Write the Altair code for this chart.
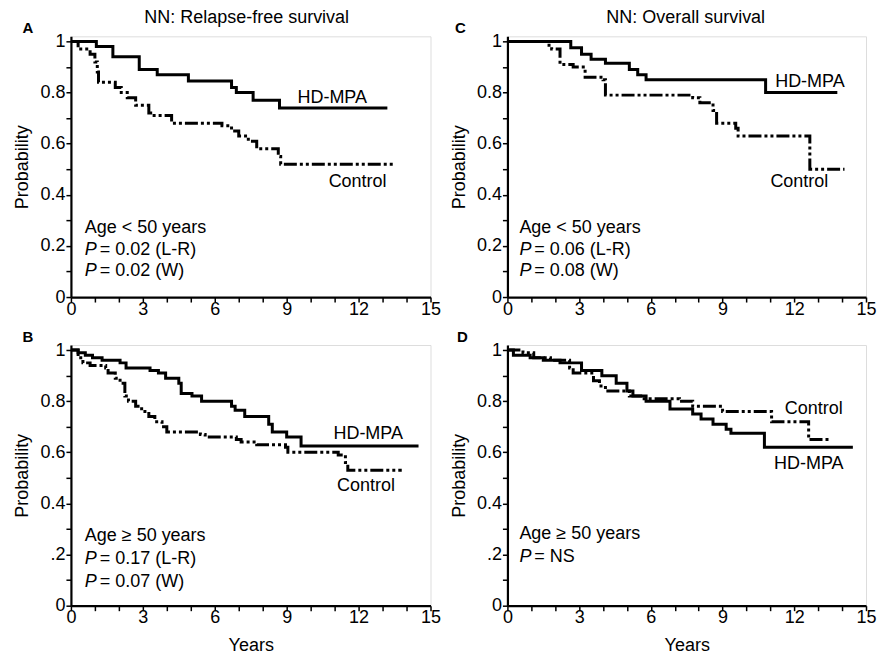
import altair as alt
import pandas as pd

FONT = "Liberation Sans"
FS = 18

# ---------------- data ----------------
A_HD_t = [0, 1.06, 1.75, 2.85, 3.6, 4.9, 6.7, 6.9, 7.6, 8.7, 13.2]
A_HD_s = [1.0, 0.98, 0.94, 0.89, 0.87, 0.845, 0.82, 0.80, 0.77, 0.74, 0.74]
A_C_t = [0, 0.3, 0.8, 1.0, 1.1, 1.15, 1.85, 2.1, 2.35, 2.7, 3.25, 3.4, 4.2, 6.3, 6.7, 7.0, 7.4, 7.75, 8.65, 8.75, 13.5]
A_C_s = [1.0, 0.97, 0.95, 0.92, 0.88, 0.84, 0.82, 0.80, 0.78, 0.75, 0.72, 0.71, 0.68, 0.67, 0.65, 0.63, 0.61, 0.58, 0.55, 0.52, 0.52]

C_HD_t = [0, 2.65, 3.1, 3.5, 4.1, 5.1, 5.45, 5.8, 10.8, 13.8]
C_HD_s = [1.0, 0.975, 0.95, 0.93, 0.915, 0.89, 0.87, 0.85, 0.80, 0.80]
C_C_t = [0, 1.65, 1.85, 2.2, 2.75, 3.25, 4.0, 4.1, 7.75, 8.05, 8.6, 8.75, 9.55, 9.65, 12.65, 14.1]
C_C_s = [1.0, 0.985, 0.97, 0.91, 0.90, 0.86, 0.85, 0.79, 0.78, 0.76, 0.73, 0.68, 0.66, 0.63, 0.50, 0.50]

B_HD_t = [0, 0.3, 0.6, 0.9, 1.3, 2.05, 2.3, 3.3, 3.65, 3.95, 4.5, 4.6, 5.05, 5.45, 6.7, 6.85, 7.25, 8.25, 8.4, 9.0, 9.6, 14.5]
B_HD_s = [1.0, 0.99, 0.98, 0.97, 0.96, 0.95, 0.93, 0.92, 0.91, 0.89, 0.87, 0.83, 0.82, 0.80, 0.78, 0.765, 0.74, 0.71, 0.68, 0.66, 0.625, 0.625]
B_C_t = [0, 0.3, 0.5, 0.8, 1.45, 1.55, 1.85, 2.05, 2.25, 2.4, 2.7, 2.95, 3.25, 3.5, 3.8, 4.0, 5.4, 5.6, 6.9, 7.1, 7.75, 8.95, 9.05, 11.15, 11.45, 11.55, 13.8]
B_C_s = [1.0, 0.97, 0.95, 0.94, 0.93, 0.91, 0.89, 0.87, 0.82, 0.80, 0.78, 0.76, 0.74, 0.72, 0.70, 0.68, 0.67, 0.66, 0.65, 0.64, 0.63, 0.62, 0.60, 0.59, 0.56, 0.53, 0.53]

D_HD_t = [0, 0.25, 0.95, 1.5, 2.2, 3.1, 3.95, 4.55, 5.0, 5.25, 5.8, 6.8, 7.75, 8.1, 8.6, 9.15, 9.35, 10.75, 14.45]
D_HD_s = [1.0, 0.98, 0.97, 0.96, 0.95, 0.92, 0.90, 0.87, 0.84, 0.82, 0.80, 0.77, 0.75, 0.73, 0.71, 0.69, 0.675, 0.62, 0.62]
D_C_t = [0, 0.65, 1.1, 1.8, 2.6, 2.75, 3.6, 3.85, 4.1, 5.1, 5.65, 7.2, 7.75, 9.0, 11.05, 12.6, 13.45]
D_C_s = [1.0, 0.99, 0.97, 0.96, 0.93, 0.91, 0.88, 0.86, 0.84, 0.82, 0.81, 0.80, 0.78, 0.76, 0.72, 0.65, 0.65]

# group labels: (x, y, text)
A_groups = [(9.45, 0.78, "HD-MPA"), (10.75, 0.45, "Control")]
C_groups = [(11.2, 0.84, "HD-MPA"), (11.0, 0.45, "Control")]
B_groups = [(10.95, 0.67, "HD-MPA"), (11.1, 0.467, "Control")]
D_groups = [(11.6, 0.77, "Control"), (11.15, 0.556, "HD-MPA")]

# annotation lines: header, then P-value rows
A_notes = ["Age < 50 years", "= 0.02 (L-R)", "= 0.02 (W)"]
C_notes = ["Age < 50 years", "= 0.06 (L-R)", "= 0.08 (W)"]
B_notes = ["Age ≥ 50 years", "= 0.17 (L-R)", "= 0.07 (W)"]
D_notes = ["Age ≥ 50 years", "= NS"]
NOTE_X = {"A": 0.58, "B": 0.58, "C": 0.5, "D": 0.5}
NOTE_Y = {"A": [0.27, 0.185, 0.10], "C": [0.27, 0.185, 0.10],
          "B": [0.272, 0.183, 0.094], "D": [0.28, 0.19]}

TITLES = {"A": "NN: Relapse-free survival", "C": "NN: Overall survival"}
TITLE_SHIFT = {"A": -4, "C": -1}

X_TICKS = list(range(16))
Y_TICKS = [round(i * 0.1, 1) for i in range(11)]


def panel(letter, hd_t, hd_s, c_t, c_s, groups, notes, bottom, width, letter_dx):
    hd = pd.DataFrame({"t": hd_t, "s": hd_s})
    ct = pd.DataFrame({"t": c_t, "s": c_s})
    xs = alt.Scale(domain=[0, 15], nice=False)
    ys = alt.Scale(domain=[0, 1.02], nice=False)
    short = ".2" if bottom else "0.2"
    xaxis = alt.Axis(values=X_TICKS, labelExpr="datum.value % 3 == 0 ? datum.label : ''",
                     title="Years" if bottom else None, grid=False, tickSize=5,
                     tickWidth=1.5, domainWidth=2.2, labelPadding=-2, titlePadding=10,
                     labelFontSize=FS, titleFontSize=FS, titleFontWeight="normal",
                     labelFont=FONT, titleFont=FONT, domainColor="black", tickColor="black",
                     labelColor="black", titleColor="black", labelFlush=False,
                     labelOverlap=False)
    yaxis = alt.Axis(values=Y_TICKS,
                     labelExpr=("round(datum.value*10) % 2 == 1 ? '' : datum.value == 1 ? '1' : "
                                "datum.value == 0 ? '0' : round(datum.value*10) == 2 ? '" + short +
                                "' : format(datum.value, '.1f')"),
                     title="Probability", grid=False, tickSize=5, tickWidth=1.5,
                     domainWidth=2.2, labelPadding=1, titlePadding=8,
                     labelFontSize=FS, titleFontSize=FS, titleFontWeight="normal",
                     labelFont=FONT, titleFont=FONT, domainColor="black", tickColor="black",
                     labelColor="black", titleColor="black", labelFlush=False,
                     labelOverlap=False)

    X = alt.X("t:Q", scale=xs, axis=xaxis)
    Y = alt.Y("s:Q", scale=ys, axis=yaxis)

    hd_line = alt.Chart(hd).mark_line(interpolate="step-after", color="black", strokeWidth=3).encode(
        x=X, y=Y)
    c_line = alt.Chart(ct).mark_line(interpolate="step-after", color="black", strokeWidth=3,
                                     strokeDash=[13, 3, 3, 3, 3, 3]).encode(x=X, y=Y)

    gdf = pd.DataFrame(groups, columns=["x", "y", "text"])
    Xg = alt.X("x:Q", scale=xs, axis=xaxis)
    Yg = alt.Y("y:Q", scale=ys, axis=yaxis)
    glab = alt.Chart(gdf).mark_text(align="left", baseline="middle", fontSize=FS, font=FONT,
                                    color="black").encode(x=Xg, y=Yg, text="text:N")

    nx = NOTE_X[letter]
    ny = NOTE_Y[letter]
    head = pd.DataFrame({"x": [nx], "y": [ny[0]], "text": [notes[0]]})
    rows = pd.DataFrame({"x": [nx] * (len(notes) - 1), "y": ny[1:], "text": notes[1:],
                         "p": ["P"] * (len(notes) - 1)})
    headl = alt.Chart(head).mark_text(align="left", baseline="middle", fontSize=FS, font=FONT,
                                      color="black").encode(x=Xg, y=Yg, text="text:N")
    pl = alt.Chart(rows).mark_text(align="left", baseline="middle", fontSize=FS, font=FONT,
                                   fontStyle="italic", color="black").encode(x=Xg, y=Yg, text="p:N")
    rl = alt.Chart(rows).mark_text(align="left", baseline="middle", fontSize=FS, font=FONT,
                                   dx=15, color="black").encode(x=Xg, y=Yg, text="text:N")

    let = alt.Chart(pd.DataFrame({"L": [letter]})).mark_text(
        align="center", baseline="middle", fontSize=15, fontWeight="bold", font=FONT,
        color="black").encode(x=alt.value(letter_dx), y=alt.value(-8), text="L:N")

    layers = [hd_line, c_line, glab, headl, pl, rl, let]
    if letter in TITLES:
        tt = alt.Chart(pd.DataFrame({"T": [TITLES[letter]]})).mark_text(
            align="center", baseline="middle", fontSize=FS, font=FONT, color="black"
        ).encode(x=alt.value(width / 2 + TITLE_SHIFT[letter]), y=alt.value(-18), text="T:N")
        layers.append(tt)
    return alt.layer(*layers).properties(width=width, height=261)


pA = panel("A", A_HD_t, A_HD_s, A_C_t, A_C_s, A_groups, A_notes, False, 360, -43)
pC = panel("C", C_HD_t, C_HD_s, C_C_t, C_C_s, C_groups, C_notes, False, 359, -47)
pB = panel("B", B_HD_t, B_HD_s, B_C_t, B_C_s, B_groups, B_notes, True, 360, -43)
pD = panel("D", D_HD_t, D_HD_s, D_C_t, D_C_s, D_groups, D_notes, True, 359, -45)

top = alt.hconcat(pA, pC, spacing=8)
bot = alt.hconcat(pB, pD, spacing=8)
chart = alt.vconcat(top, bot, spacing=10).configure_view(
    stroke="black", strokeWidth=1.5
).configure_axis(labelOverlap=False).configure(
    background="white", padding={"left": 5, "top": 0, "right": 0, "bottom": 0})

chart.save("out.html", embed_options={"renderer": "svg", "actions": False})
